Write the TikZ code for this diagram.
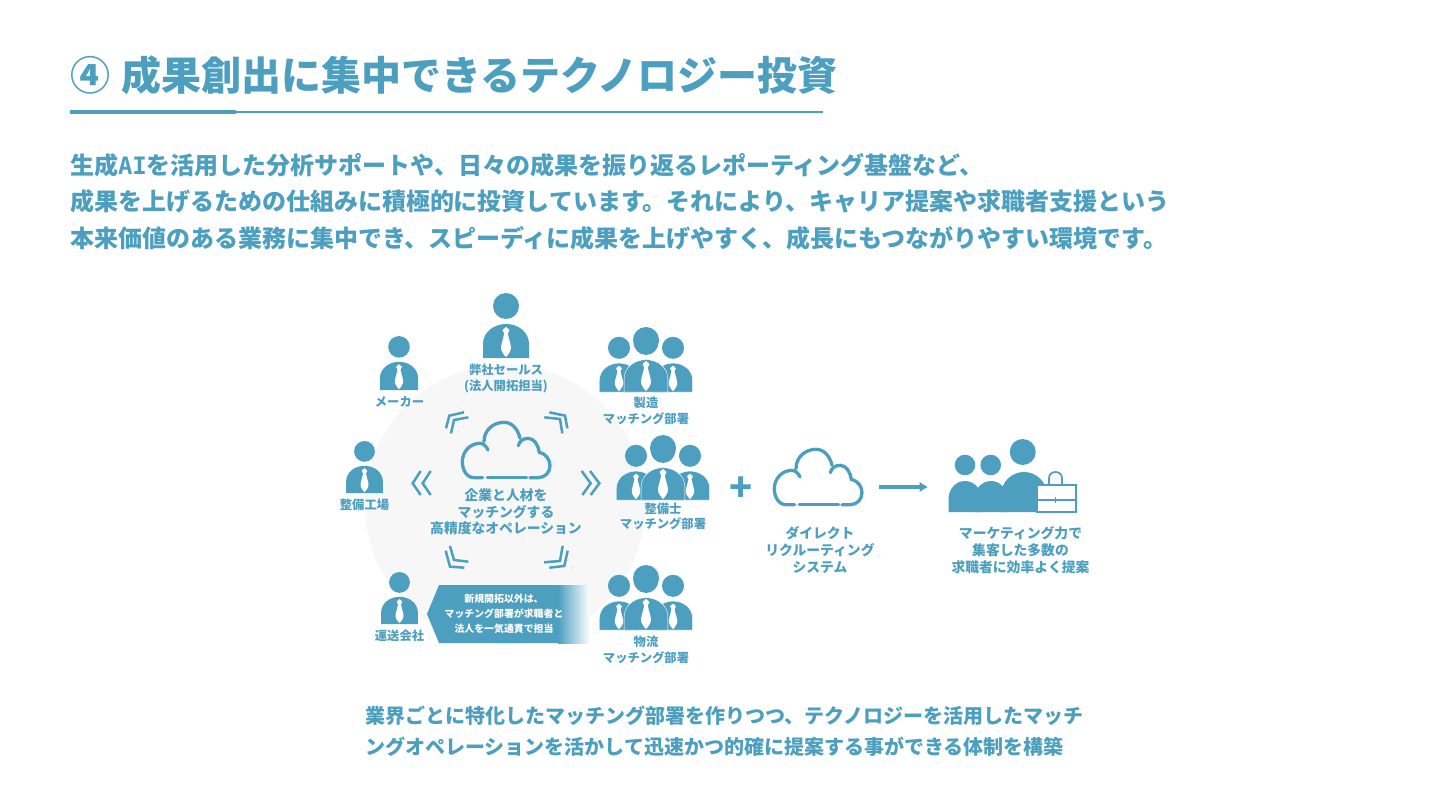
\documentclass[tikz,border=0pt]{standalone}
\usepackage{fontspec}
\usetikzlibrary{arrows.meta}
\setmainfont{Noto Sans CJK JP}
\newfontfamily\latinfb{DejaVu Sans Mono}
\definecolor{tc}{HTML}{4C9FBF}
\definecolor{bgc}{HTML}{F7F7F8}
\tikzset{
 personline/.style={},
 txt/.style={inner sep=0,outer sep=0,text=tc,font=\bfseries,align=center},
 small/.style={txt,font=\bfseries\fontsize{12.3}{15.5}\selectfont},
 mid/.style={txt,font=\bfseries\fontsize{13.8}{16.7}\selectfont},
 chev/.style={draw=tc,line width=2.5pt},
 cloudline/.style={draw=tc,line width=3.3pt,line cap=round},
}
\newcommand{\personbody}[3]{%
 \begin{scope}[shift={(#1,#2)},scale=#3]
  \fill[tc] (0,-52) circle (13);
  \path[fill=tc,personline] (-23,0) -- (-23,-14) .. controls (-23,-26) and (-12,-34) .. (0,-34) .. controls (12,-34) and (23,-26) .. (23,-14) -- (23,0) -- cycle;
 \end{scope}}
\newcommand{\persontie}[3]{%
 \begin{scope}[shift={(#1,#2)},scale=#3]
  \fill[white] (0,-31) -- (3.5,-28) -- (1.8,-24.5) .. controls (3,-18) and (5,-14) .. (5,-10) .. controls (5,-7) and (2,-3) .. (0,-1) .. controls (-2,-3) and (-5,-7) .. (-5,-10) .. controls (-5,-14) and (-3,-18) .. (-1.8,-24.5) -- (-3.5,-28) -- cycle;
 \end{scope}}
\newcommand{\personfig}[3]{\personbody{#1}{#2}{#3}\persontie{#1}{#2}{#3}}
\newcommand{\groupfig}[2]{%
 \begin{scope}[personline/.style={draw=white,line width=.4pt}]
 \personbody{#1-27}{#2}{.85}
 \personbody{#1+27}{#2}{.85}
 \personbody{#1}{#2}{.95}
 \fill[tc] (#1,#2-52) circle (13);
 \persontie{#1-27}{#2}{.85}
 \persontie{#1+27}{#2}{.85}
 \persontie{#1}{#2}{1}
 \end{scope}}
\newcommand{\plainbody}[4]{%
 \begin{scope}[shift={(#1,#2)},xscale=#3/23,yscale=#4/34]
  \fill[tc] (-23,0) -- (-23,-14) .. controls (-23,-26) and (-12,-34) .. (0,-34) .. controls (12,-34) and (23,-26) .. (23,-14) -- (23,0) -- cycle;
 \end{scope}}
\newcommand{\cloudfig}[2]{%
 \begin{scope}[shift={(#1,#2)},scale=1/3]
  \draw[cloudline] (458,578) -- (432,578) .. controls (410,578) and (397,555) .. (397,530) .. controls (397,500) and (420,475) .. (450,475) .. controls (460,475) and (470,485) .. (474,495);
  \draw[cloudline] (462,470) .. controls (462,435) and (490,412) .. (522,412) .. controls (545,412) and (563,430) .. (570,460);
  \draw[cloudline] (565,482) .. controls (568,468) and (580,460) .. (595,460) .. controls (612,460) and (625,480) .. (628,502) .. controls (648,506) and (660,525) .. (660,542) .. controls (660,562) and (645,578) .. (625,578) -- (600,578);
  \draw[cloudline] (472,578) -- (590,578);
 \end{scope}}
\begin{document}
\begin{tikzpicture}[x=1pt,y=-1pt]
\useasboundingbox (0,0) rectangle (1440,810);
\fill[white] (0,0) rectangle (1440,810);
% title
\node[txt,anchor=center,font=\bfseries\fontsize{40}{40}\selectfont] (num) at (90,75) {④};
\node[txt,anchor=west,font=\bfseries\fontsize{40}{40}\selectfont] (title) at (121,75) {成果創出に集中できるテクノロジー投資};
\coordinate (ua) at (70,112); \coordinate (ub) at (236,112); \coordinate (uc) at (823,112);
\draw[tc,line width=3.4pt] (ua) -- (ub);
\draw[tc,line width=1.6pt] (ub) -- (uc);
\node[txt,anchor=west,align=left,font=\bfseries\fontsize{24}{36.5}\selectfont] (body) at (70,201.5) {生成{\latinfb AI}を活用した分析サポートや、日々の成果を振り返るレポーティング基盤など、\\成果を上げるための仕組みに積極的に投資しています。それにより、キャリア提案や求職者支援という\\本来価値のある業務に集中でき、スピーディに成果を上げやすく、成長にもつながりやすい環境です。};
% circle
\fill[bgc] (505,505) circle (140);
% people
\personfig{506}{358}{1}
\personfig{399}{390}{.83}
\personfig{364.5}{493}{.8}
\personfig{399.5}{624}{.8}
\groupfig{646}{392}
\groupfig{663}{500}
\groupfig{646}{630}
% labels
\node[small] (sales) at (506,378.5) {弊社セールス\\(法人開拓担当)};
\node[small] (maker) at (399.5,402) {メーカー};
\node[small] (seizo) at (646,411) {製造\\マッチング部署};
\node[small] (koujou) at (364.5,505) {整備工場};
\node[small] (seibi) at (663,516.5) {整備士\\マッチング部署};
\node[small] (unso) at (399.5,636) {運送会社};
\node[small] (butsu) at (646,650) {物流\\マッチング部署};
% cloud 1
\cloudfig{330}{285}
\node[mid] (center) at (506,512) {企業と人材を\\マッチングする\\高精度なオペレーション};
% chevrons
\begin{scope}[shift={(330,285)},scale=1/3]
 \draw[chev] (348,430) -- (358,392) -- (402,382);
 \draw[chev] (363,445) -- (372,405) -- (415,397);
 \draw[chev] (658,382) -- (705,392) -- (712,430);
 \draw[chev] (643,397) -- (690,402) -- (697,445);
\end{scope}
\begin{scope}[shift={(330,480)},scale=1/3]
 \draw[chev] (360,198) -- (372,240) -- (415,245);
 \draw[chev] (347,212) -- (360,260) -- (403,263);
 \draw[chev] (698,198) -- (690,243) -- (642,247);
 \draw[chev] (713,212) -- (703,258) -- (658,263);
\end{scope}
\begin{scope}[shift={(400,460)},scale=1/3]
 \draw[chev] (62,33) -- (38,70) -- (62,105);
 \draw[chev] (92,33) -- (68,70) -- (92,105);
 \draw[chev] (545,33) -- (572,70) -- (547,105);
 \draw[chev] (570,33) -- (598,70) -- (572,105);
\end{scope}
% banner
\shade[left color=tc,right color=white] (558,585) rectangle (590,643);
\fill[tc] (439,585) -- (427,614) -- (439,643) -- (558.5,643) -- (558.5,585) -- cycle;
\node[txt,text=white,font=\bfseries\fontsize{9.9}{15}\selectfont] (bann) at (504,614) {新規開拓以外は、\\マッチング部署が求職者と\\法人を一気通貫で担当};
% plus
\node[txt,font=\bfseries\fontsize{38}{38}\selectfont] (plus) at (741.5,489) {+};
% cloud 2
\cloudfig{642}{312}
\node[mid] (direct) at (820,550) {ダイレクト\\リクルーティング\\システム};
% arrow
\coordinate (as) at (879,487); \coordinate (ae) at (928,487);
\draw[tc,line width=3.6pt,-{Latex[length=8.5pt,width=11pt]}] (as) -- (ae);
% right group
\fill[tc] (965,465) circle (10.3);
\fill[tc] (990.7,465) circle (10.3);
\fill[tc] (1022.7,452) circle (13);
\plainbody{965}{512}{16.5}{31}
\plainbody{991}{512}{16.5}{31}
\plainbody{1024}{512}{23}{40}
\draw[tc,line width=1.7pt] (1049,486) -- (1049,478) .. controls (1049,470) and (1062,470) .. (1062,478) -- (1062,486);
\path[fill=white,draw=tc,line width=1.6pt] (1037,485) rectangle (1076,512);
\draw[tc,line width=1.6pt] (1037,500) -- (1076,500);
\draw[tc,line width=1.2pt] (1055.5,497) -- (1055.5,503);
\node[mid] (market) at (1020.5,550) {マーケティング力で\\集客した多数の\\求職者に効率よく提案};
% bottom
\node[txt,anchor=west,align=left,font=\bfseries\fontsize{20}{31}\selectfont] (foot) at (365,731.5) {業界ごとに特化したマッチング部署を作りつつ、テクノロジーを活用したマッチ\\ングオペレーションを活かして迅速かつ的確に提案する事ができる体制を構築};
\end{tikzpicture}
\end{document}
